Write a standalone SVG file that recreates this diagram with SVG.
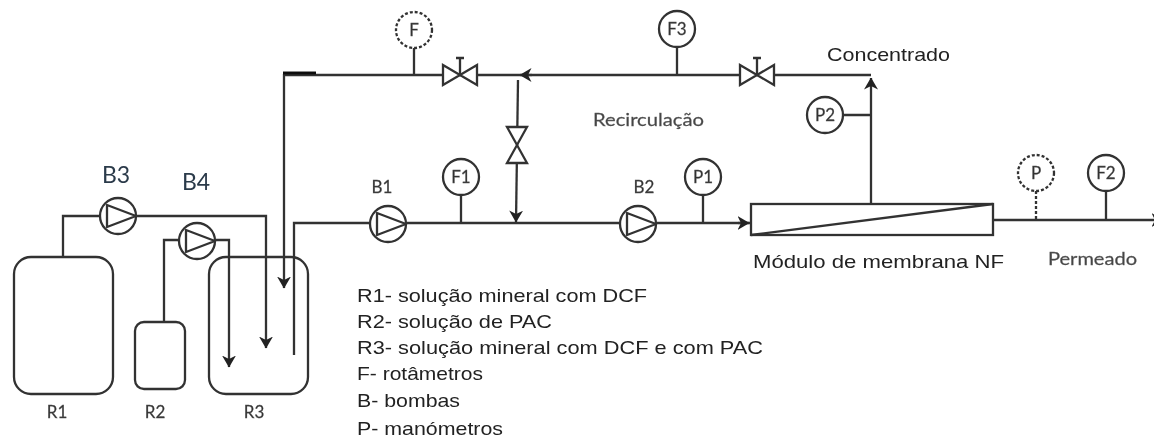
<svg xmlns="http://www.w3.org/2000/svg" width="1154" height="438" viewBox="0 0 1154 438">
<style>
.p{fill:none;stroke:#333;stroke-width:2.3}
.v{fill:#fff;stroke:#333;stroke-width:2.3}
.d{stroke-dasharray:3 2}
text{font-family:"Liberation Sans",Arial,sans-serif;fill:#222}
.c{font-family:Lato,"Liberation Sans",sans-serif;font-size:17px;text-anchor:middle;fill:#333;stroke:#555;stroke-width:.3}
.g{font-family:Lato,"Liberation Sans",sans-serif;font-size:18px;fill:#444;stroke:#666;stroke-width:.3}
.l{font-size:18.5px}
.b{font-size:23px;fill:#2b3a4a;font-family:Lato,"Liberation Sans",sans-serif;text-anchor:middle}
</style>
<defs>
<marker id="a" viewBox="0 0 12 14" refX="11.5" refY="7" markerWidth="12" markerHeight="14" markerUnits="userSpaceOnUse" orient="auto"><path d="M0 0L12 7L0 14L3.5 7Z" fill="#222"/></marker>
<filter id="s" x="-2%" y="-2%" width="104%" height="104%"><feGaussianBlur stdDeviation="0.5"/></filter>
<g id="pump"><circle r="18" class="v"/><path d="M-11 -11L18 0L-11 11Z" class="v" stroke-linejoin="round"/></g>
<g id="valve"><path d="M-17 -10L0 0L-17 10ZM17 -10L0 0L17 10Z" class="v"/><path d="M0 0V-17M-4 -17H4" class="p"/></g>
</defs>
<rect width="1154" height="438" fill="#fff"/>
<g filter="url(#s)">
<g id="connectors">
<path class="p" d="M63 257V216H100"/>
<path class="p" d="M137 216H266V348" marker-end="url(#a)"/>
<path class="p" d="M164 322V240H179"/>
<path class="p" d="M215 240H229V367" marker-end="url(#a)"/>
<path class="p" d="M871 75H285"/>
<path class="p" d="M284 74V288" marker-end="url(#a)"/>
<path d="M283 73H316" fill="none" stroke="#111" stroke-width="3"/>
<path class="p" d="M294 355V223H750"/>
<path class="p" d="M532 75H520" marker-end="url(#a)"/>
<path class="p" d="M738 223H749" marker-end="url(#a)"/>
<path class="p" d="M871 204V78" marker-end="url(#a)"/>
<path class="p" d="M518 80L516 222" marker-end="url(#a)"/>
<path class="p" d="M993 220H1163" marker-end="url(#a)"/>
<path class="p" d="M414 48V74M677 47V75M461 195V223M703 195V223M843 115H871M1106 191V220"/>
<path class="p d" d="M1036 191V220"/>
</g>
<g id="R1"><rect x="14" y="257" width="99" height="137" rx="17" class="p"/><text class="c" x="57" y="418">R1</text></g>
<g id="R2"><rect x="135" y="322" width="50" height="67" rx="9" class="p"/><text class="c" x="155" y="418">R2</text></g>
<g id="R3"><rect x="209" y="257" width="99" height="137" rx="17" class="p"/><text class="c" x="254" y="418">R3</text></g>
<g id="B3"><use href="#pump" x="118" y="216"/><text class="b" x="116" y="183">B3</text></g>
<g id="B4"><use href="#pump" x="197" y="241"/><text class="b" x="196" y="190">B4</text></g>
<g id="B1"><use href="#pump" x="388" y="224"/><text class="c" x="382" y="193">B1</text></g>
<g id="B2"><use href="#pump" x="638" y="224"/><text class="c" x="644" y="193">B2</text></g>
<g id="F"><circle cx="414" cy="30" r="18" class="v d"/><text class="c" x="414" y="36">F</text></g>
<g id="F3"><circle cx="677" cy="29" r="18" class="v"/><text class="c" x="677" y="35">F3</text></g>
<g id="F1"><circle cx="461" cy="177" r="18" class="v"/><text class="c" x="461" y="183">F1</text></g>
<g id="P1"><circle cx="703" cy="177" r="18" class="v"/><text class="c" x="703" y="183">P1</text></g>
<g id="P2"><circle cx="825" cy="115" r="18" class="v"/><text class="c" x="825" y="121">P2</text></g>
<g id="P"><circle cx="1036" cy="173" r="18" class="v d"/><text class="c" x="1036" y="179">P</text></g>
<g id="F2"><circle cx="1106" cy="173" r="18" class="v"/><text class="c" x="1106" y="179">F2</text></g>
<g id="V1"><use href="#valve" x="460" y="75"/></g>
<g id="V2"><use href="#valve" x="757" y="75"/></g>
<g id="V3"><path d="M507 127H527L517 145ZM507 163H527L517 145Z" class="v"/></g>
<g id="M"><rect x="751" y="204" width="242" height="31" class="v"/><path d="M751 235L993 204" class="p"/></g>
<g id="labels">
<text class="l" x="827" y="61" textLength="123" lengthAdjust="spacingAndGlyphs">Concentrado</text>
<text class="g" x="593" y="126" textLength="111" lengthAdjust="spacingAndGlyphs">Recirculação</text>
<text class="l" x="753" y="268" textLength="251" lengthAdjust="spacingAndGlyphs">Módulo de membrana NF</text>
<text class="g" x="1048" y="265" textLength="89" lengthAdjust="spacingAndGlyphs">Permeado</text>
<text class="l" x="357" y="302" textLength="290" lengthAdjust="spacingAndGlyphs">R1- solução mineral com DCF</text>
<text class="l" x="357" y="328" textLength="195" lengthAdjust="spacingAndGlyphs">R2- solução de PAC</text>
<text class="l" x="357" y="354" textLength="406" lengthAdjust="spacingAndGlyphs">R3- solução mineral com DCF e com PAC</text>
<text class="l" x="357" y="380" textLength="126" lengthAdjust="spacingAndGlyphs">F- rotâmetros</text>
<text class="l" x="357" y="407" textLength="103" lengthAdjust="spacingAndGlyphs">B- bombas</text>
<text class="l" x="357" y="435" textLength="146" lengthAdjust="spacingAndGlyphs">P- manómetros</text>
</g>
</g>
</svg>
